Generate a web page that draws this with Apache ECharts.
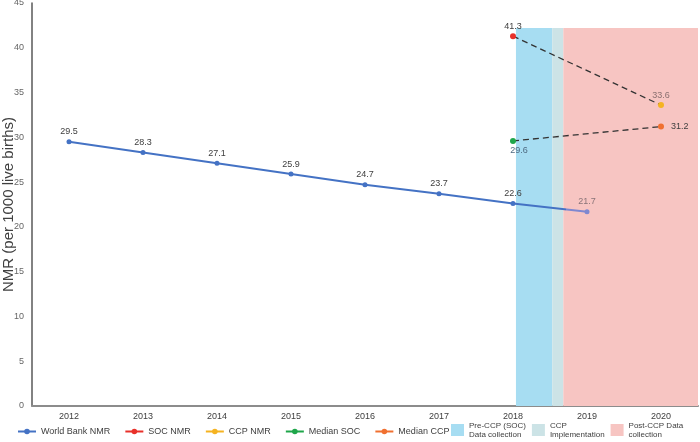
<!DOCTYPE html>
<html>
<head>
<meta charset="utf-8">
<script src="https://cdn.jsdelivr.net/npm/echarts@6/dist/echarts.min.js"></script>
<style>
html,body{margin:0;padding:0;background:#fff;}
#c{width:700px;height:442px;}
</style>
</head>
<body>
<div id="c"></div>
<script>
// ---- data ----
const years = [2012, 2013, 2014, 2015, 2016, 2017, 2018, 2019, 2020];
const worldBankYears = [2012, 2013, 2014, 2015, 2016, 2017, 2018, 2019];
const worldBankNMR = [29.5, 28.3, 27.1, 25.9, 24.7, 23.7, 22.6, 21.7];
const socNMR = [[2018, 41.3]];
const ccpNMR = [[2020, 33.6]];
const medianSOC = [[2018, 29.6]];
const medianCCP = [[2020, 31.2]];
const bandNames = ['Pre-CCP (SOC) Data collection', 'CCP Implementation', 'Post-CCP Data collection'];
const bandStart = [2018.04, 2018.53, 2018.68];
const bandEnd = [2018.53, 2018.68, 2020.5];
const bandTop = 42.2;
const yTicks = [0, 5, 10, 15, 20, 25, 30, 35, 40, 45];

// ---- chart ----
const chart = echarts.init(document.getElementById('c'), null, {renderer: 'canvas'});
const font = 'Arial, "Liberation Sans", sans-serif';
const lblStyle = {show: true, fontSize: 9, color: '#404040', fontFamily: font};
const bandColors = ['#A7DDF2', '#CCE3E6', '#F7C5C2'];

// colour change of the World Bank line where it enters the post-CCP band
const wbFrac = (bandStart[2] - worldBankYears[0]) / (worldBankYears[worldBankYears.length - 1] - worldBankYears[0]);
const wbGradient = new echarts.graphic.LinearGradient(0, 0, 1, 0, [
  {offset: 0, color: '#4472C4'},
  {offset: wbFrac, color: '#4472C4'},
  {offset: wbFrac, color: '#7F88D0'},
  {offset: 1, color: '#7F88D0'}
]);

const pointSeries = (name, data, color, labelPos, extraLabel) => ({
  name, type: 'line', data, z: 4,
  symbol: 'circle', symbolSize: 6,
  itemStyle: {color}, lineStyle: {color, width: 2},
  label: Object.assign({}, lblStyle, {position: labelPos, distance: 2}, extraLabel || {})
});

const wbData = worldBankYears.map((y, i) => [y, worldBankNMR[i]]);

const series = [
  {
    name: 'World Bank NMR', type: 'line', z: 3,
    data: wbData.map((d, i) => i === wbData.length - 1
      ? {value: d, itemStyle: {color: '#7F88D0'}, label: {color: '#8a7478'}}
      : d),
    symbol: 'circle', symbolSize: 5,
    itemStyle: {color: '#4472C4'},
    lineStyle: {color: wbGradient, width: 2},
    label: Object.assign({}, lblStyle, {position: 'top', distance: 3})
  },
  pointSeries('SOC NMR', socNMR, '#E8312A', 'top'),
  pointSeries('CCP NMR', ccpNMR, '#F5B321', 'top', {color: '#8a7070'}),
  pointSeries('Median SOC', medianSOC, '#1FA64A', 'bottom', {offset: [6, 0], color: '#4f6a80'}),
  pointSeries('Median CCP', medianCCP, '#F07030', 'right', {distance: 7}),
  {
    name: 'socTrend', type: 'line', z: 3, silent: true,
    data: [socNMR[0], ccpNMR[0]], symbol: 'none',
    lineStyle: {color: '#333', width: 1.3, type: [6, 4]}
  },
  {
    name: 'medianTrend', type: 'line', z: 3, silent: true,
    data: [medianSOC[0], medianCCP[0]], symbol: 'none',
    lineStyle: {color: '#333', width: 1.3, type: [6, 4]}
  }
];
bandNames.forEach((n, i) => {
  series.push({
    name: n, type: 'line', data: [], z: 1,
    itemStyle: {color: bandColors[i]},
    lineStyle: {color: bandColors[i]},
    markArea: {
      silent: true,
      itemStyle: {color: bandColors[i], opacity: 1},
      data: [[{xAxis: bandStart[i], yAxis: 0}, {xAxis: bandEnd[i], yAxis: bandTop}]]
    }
  });
});

const option = {
  backgroundColor: '#fff',
  animation: false,
  grid: {left: 32, right: 2, top: 3, bottom: 36, containLabel: false, outerBoundsMode: 'none'},
  xAxis: {
    type: 'value', min: 2011.5, max: 2020.5,
    axisLine: {show: true, lineStyle: {color: '#8c8c8c', width: 2}},
    axisTick: {show: false},
    splitLine: {show: false},
    axisLabel: {
      customValues: years, formatter: v => String(v),
      fontSize: 9, color: '#404040', margin: 6, fontFamily: font
    }
  },
  yAxis: {
    type: 'value', min: 0, max: 45, interval: 5,
    name: 'NMR (per 1000 live births)', nameLocation: 'middle', nameGap: 16,
    nameMoveOverlap: false,
    nameTextStyle: {fontSize: 15, color: '#404040', fontFamily: font},
    axisLine: {show: true, lineStyle: {color: '#595959', width: 1.5}},
    axisTick: {show: false},
    splitLine: {show: false},
    axisLabel: {
      customValues: yTicks,
      fontSize: 9, color: '#666', margin: 8, fontFamily: font
    }
  },
  legend: [
    {
      data: ['World Bank NMR', 'SOC NMR', 'CCP NMR', 'Median SOC', 'Median CCP'],
      left: 12, top: 422,
      itemWidth: 18, itemHeight: 7, itemGap: 14,
      textStyle: {fontSize: 9, color: '#404040', fontFamily: font}
    },
    {
      data: bandNames.map(n => ({name: n, icon: 'rect'})),
      left: 446, top: 416, width: 254,
      itemWidth: 13, itemHeight: 12, itemGap: 6,
      formatter: n => ({
        'Pre-CCP (SOC) Data collection': 'Pre-CCP (SOC)\nData collection',
        'CCP Implementation': 'CCP\nImplementation',
        'Post-CCP Data collection': 'Post-CCP Data\ncollection'
      })[n],
      textStyle: {fontSize: 8, lineHeight: 9, color: '#404040', fontFamily: font}
    }
  ],
  series
};
chart.setOption(option);
</script>
</body>
</html>
